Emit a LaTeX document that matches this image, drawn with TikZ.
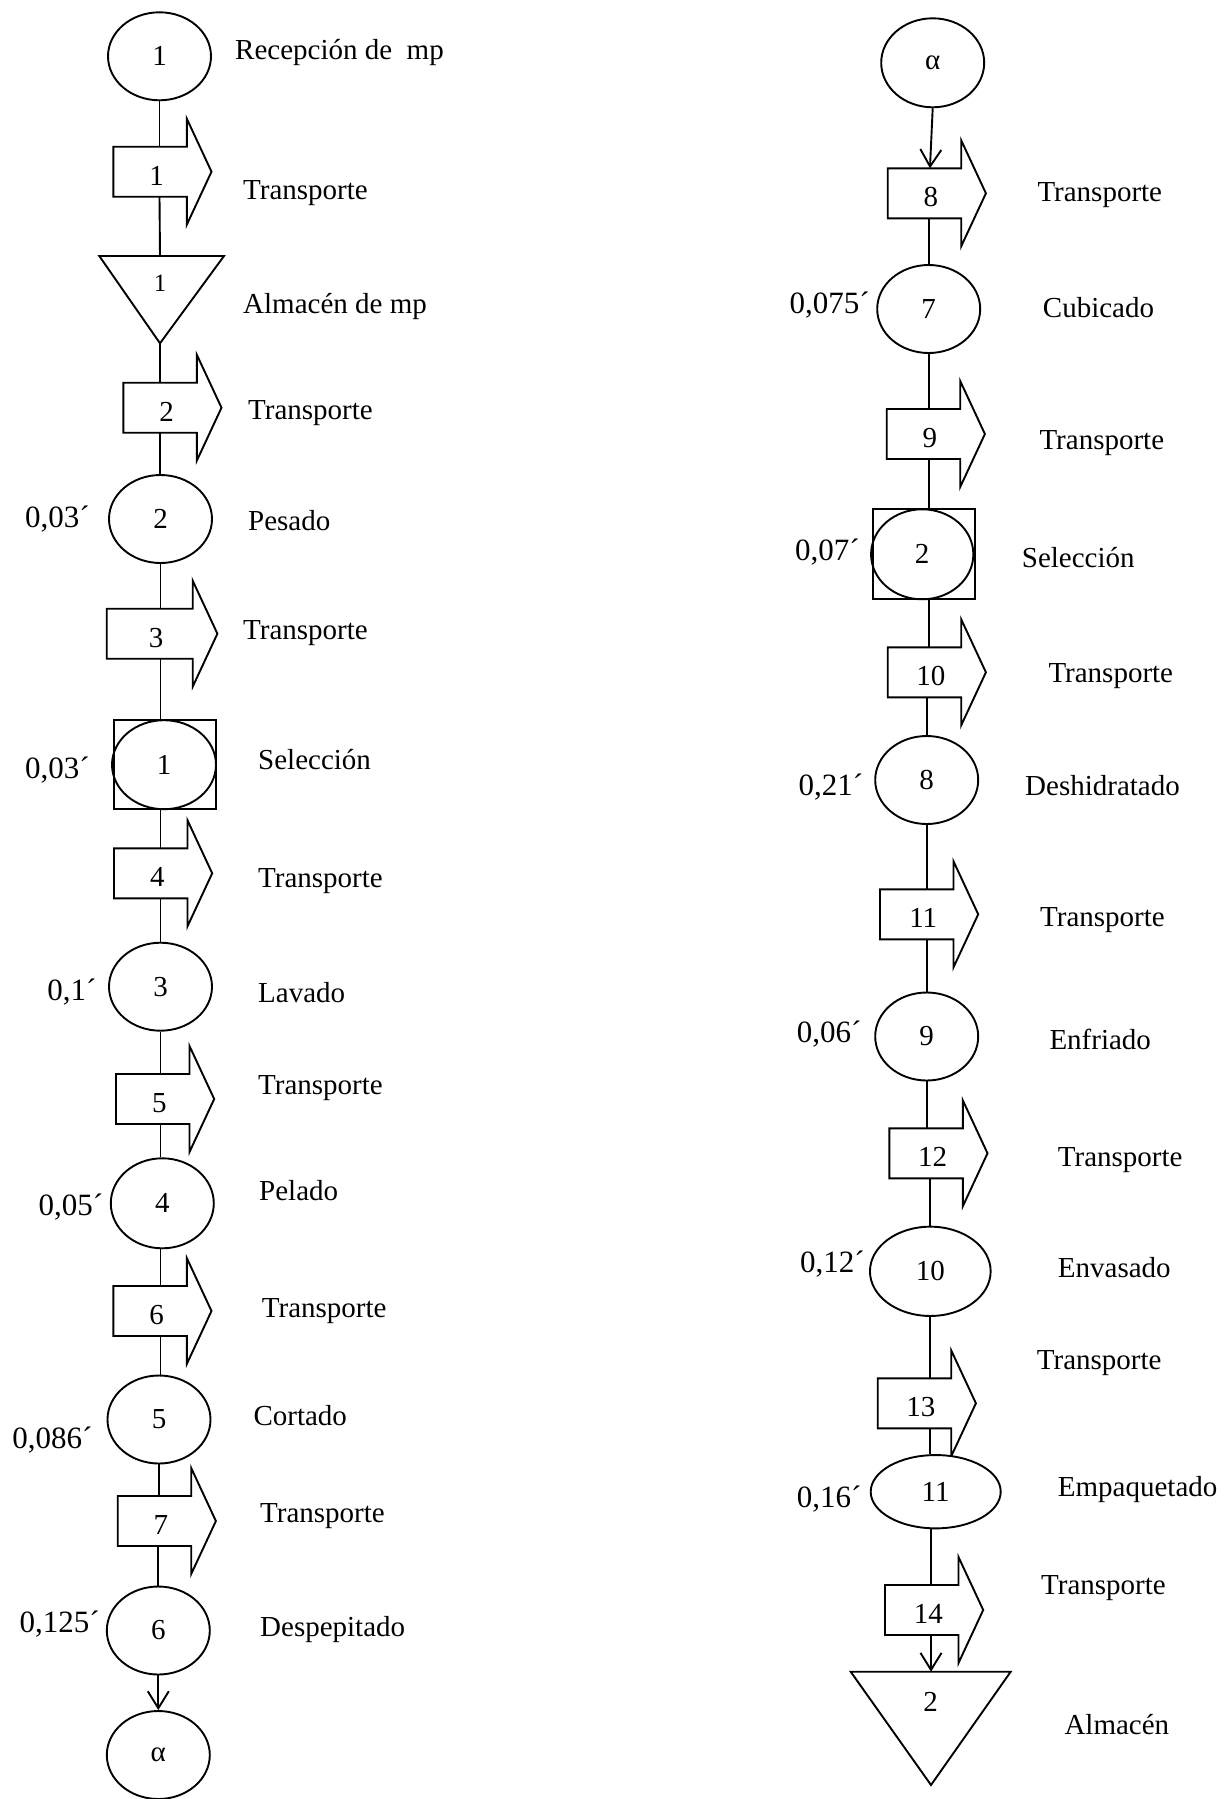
\documentclass[tikz,border=0pt]{standalone}
\usepackage{fontspec}
\setmainfont{Liberation Serif}
\usetikzlibrary{shapes.geometric,arrows.meta,calc}
\tikzset{
 shp/.style={draw, line width=1.9pt, fill=white, line join=miter},
 ell/.style={ellipse, shp, inner sep=0pt, minimum width=103pt, minimum height=88pt},
 tbody/.style={rectangle, inner sep=0pt, outer sep=0pt, minimum height=50pt},
 num/.style={inner sep=0pt},
 lbl/.style={anchor=west, inner sep=0pt, yshift=-3pt},
 tm/.style={anchor=east, inner sep=0pt, yshift=-2pt, font=\fontsize{31}{36}\selectfont},
 conn/.style={line width=1.9pt},
 arr/.style={conn, -{Straight Barb[length=17pt,width=21pt]}},
 selbox/.style={rectangle, draw, line width=1.9pt, fill=white, inner sep=0pt, outer sep=0pt},
}
\newcommand\transp[5][73.5]{%
 \node[tbody, minimum width=#1 pt] (#2) at (#3+#1/2,#4+25) {};
 \filldraw[shp] (#2.north west) -- (#2.north east) -- ++(0,-28) -- ++(24.7,53) -- ++(-24.7,53) -- ++(0,-28) -- (#2.south west) -- cycle;
 \node[num] (#2n) at ($(#2.center)+(6.5,4)$) {#5};
}
\begin{document}
\begin{tikzpicture}[x=1pt,y=-1pt,every node/.style={font=\fontsize{29}{34}\selectfont}]
\useasboundingbox (0,0) rectangle (1230,1799);
% ---------------- left column ----------------
\node[ell] (E1) at (159.5,56.3) {1};
\node[lbl] (L1) at (235,50) {Recepción de\ \ mp};
\transp{T1}{113.3}{146.7}{1}
\node[lbl] (L2) at (243,190) {Transporte};
\filldraw[shp] (99.3,256) -- (224,256) -- (160,343.3) -- cycle;
\coordinate (A1t) at (160,256);
\coordinate (A1b) at (160,343.3);
\node[num, font=\fontsize{25}{30}\selectfont] (A1n) at (160,283) {1};
\node[lbl] (L3) at (243,303) {Almacén de mp};
\transp{T2}{123.3}{382.7}{2}
\node[lbl] (L4) at (248,410) {Transporte};
\node[ell] (E2) at (160.5,519) {2};
\node[tm] (M2) at (90,516.7) {0,03´};
\node[lbl] (L5) at (248,518) {Pesado};
\transp[86]{T3}{106.7}{608.7}{3}
\node[lbl] (L6) at (243,630) {Transporte};
\node[selbox, minimum width=102pt, minimum height=89pt] (S1b) at (165,764.7) {};
\node[ell, fill=none, minimum width=104pt, minimum height=89pt] (S1) at (164,764.7) {1};
\node[tm] (M3) at (90,768) {0,03´};
\node[lbl] (L7) at (258,757) {Selección};
\transp{T4}{114}{848.3}{4}
\node[lbl] (L8) at (258,878) {Transporte};
\node[ell] (E3) at (160.5,986.7) {3};
\node[tm] (M4) at (96.7,990) {0,1´};
\node[lbl] (L9) at (258,990) {Lavado};
\transp{T5}{116}{1074}{5}
\node[lbl] (L10) at (258,1085) {Transporte};
\node[ell, minimum height=90pt] (E4) at (162.3,1203.3) {4};
\node[tm] (M5) at (103.3,1205) {0,05´};
\node[lbl] (L11) at (259,1188) {Pelado};
\transp{T6}{113.3}{1286}{6}
\node[lbl] (L12) at (261.7,1308) {Transporte};
\node[ell] (E5) at (159,1419.5) {5};
\node[tm] (M6) at (92.7,1438) {0,086´};
\node[lbl] (L13) at (253.3,1413) {Cortado};
\transp{T7}{117.7}{1496}{7}
\node[lbl] (L14) at (260,1513) {Transporte};
\node[ell] (E6) at (158.3,1630.5) {6};
\node[tm] (M7) at (100,1621.7) {0,125´};
\node[lbl] (L15) at (260,1627) {Despepitado};
\node[ell] (aL) at (158.3,1755) {α};
% left connectors
\draw[conn] (E1.south) -- (E1.south |- T1.north);
\draw[conn] (T1.south -| E1.south) -- (A1t);
\draw[conn] (A1b) -- (A1b |- T2.north);
\draw[conn] (T2.south -| A1b) -- (A1b |- E2.north);
\draw[conn] (E2.south) -- (E2.south |- T3.north);
\draw[conn] (T3.south -| E2.south) -- (E2.south |- S1b.north);
\draw[conn] (S1b.south -| E2.south) -- (E2.south |- T4.north);
\draw[conn] (T4.south -| E3.north) -- (E3.north);
\draw[conn] (E3.south) -- (E3.south |- T5.north);
\draw[conn] (T5.south -| E3.south) -- (E3.south |- E4.north);
\draw[conn] (E4.south -| E3.south) -- (E3.south |- T6.north);
\draw[conn] (T6.south -| E3.south) -- (E3.south |- E5.north);
\draw[conn] (E5.south) -- (E5.south |- T7.north);
\draw[conn] (T7.south -| E6.north) -- (E6.north);
\draw[arr] (E6.south) -- (aL.north);
% ---------------- right column ----------------
\node[ell, minimum height=89pt] (aR) at (932.7,62.8) {α};
\transp{T8}{887.7}{168.3}{8}
\node[lbl] (R1) at (1037.3,191.7) {Transporte};
\node[ell] (E7) at (928.7,309) {7};
\node[tm] (N1) at (870,303) {0,075´};
\node[lbl] (R2) at (1042.7,305) {Cubicado};
\transp{T9}{886.7}{409}{9}
\node[lbl] (R3) at (1039.3,440) {Transporte};
\node[selbox, minimum width=102.3pt, minimum height=90pt] (S2b) at (923.8,554.3) {};
\node[ell, fill=none, minimum width=102.3pt, minimum height=90pt] (S2) at (922.2,554.3) {2};
\node[tm] (N2) at (860,550) {0,07´};
\node[lbl] (R4) at (1021.7,555) {Selección};
\transp{T10}{887.7}{647.3}{10}
\node[lbl] (R5) at (1048.3,673.3) {Transporte};
\node[ell] (E8) at (926.7,780) {8};
\node[tm] (N3) at (863.3,785) {0,21´};
\node[lbl] (R6) at (1025,783) {Deshidratado};
\transp{T11}{880}{889.3}{11}
\node[lbl] (R7) at (1040,916.7) {Transporte};
\node[ell] (E9) at (926.7,1036.5) {9};
\node[tm] (N4) at (861.7,1031.7) {0,06´};
\node[lbl] (R8) at (1049.3,1036.7) {Enfriado};
\transp{T12}{889.3}{1128.3}{12}
\node[lbl] (R9) at (1057.7,1156.7) {Transporte};
\node[ell, minimum width=120.7pt, minimum height=89.3pt] (E10) at (930.3,1271.3) {10};
\node[tm] (N5) at (865,1261.7) {0,12´};
\node[lbl] (R10) at (1057.7,1265) {Envasado};
\transp{T13}{877.7}{1378.3}{13}
\node[lbl] (R11) at (1036.7,1360) {Transporte};
\node[ell, minimum width=130pt, minimum height=73.3pt] (E11) at (935.7,1491.7) {11};
\node[tm] (N6) at (861.7,1496.7) {0,16´};
\node[lbl] (R12) at (1057.7,1486.7) {Empaquetado};
\transp{T14}{885}{1585}{14}
\node[lbl] (R13) at (1041,1585) {Transporte};
\filldraw[shp] (850.7,1671.7) -- (1010.7,1671.7) -- (931,1785) -- cycle;
\coordinate (A2t) at (931,1671.7);
\node[num] (A2n) at (930.7,1701.7) {2};
\node[lbl] (R14) at (1064.3,1721.7) {Almacén};
% right connectors
\draw[arr] (aR.south) -- ($(T8.north)+(5.5,0)$);
\draw[conn] (T8.south -| E7.north) -- (E7.north);
\draw[conn] (E7.south) -- (E7.south |- T9.north);
\draw[conn] (T9.south -| E7.south) -- (E7.south |- S2b.north);
\draw[conn] (S2b.south -| E7.south) -- (E7.south |- T10.north);
\draw[conn] (T10.south -| E8.north) -- (E8.north);
\draw[conn] (E8.south) -- (E8.south |- T11.north);
\draw[conn] (T11.south -| E9.north) -- (E9.north);
\draw[conn] (E9.south) -- (E9.south |- T12.north);
\draw[conn] (T12.south -| E10.north) -- (E10.north);
\draw[conn] (E10.south) -- (E10.south |- T13.north);
\draw[conn] (T13.south -| E10.south) -- (E10.south |- E11.north);
\draw[conn] (E11.south -| A2t) -- (A2t |- T14.north);
\draw[arr] (T14.south -| A2t) -- (A2t);
\end{tikzpicture}
\end{document}
